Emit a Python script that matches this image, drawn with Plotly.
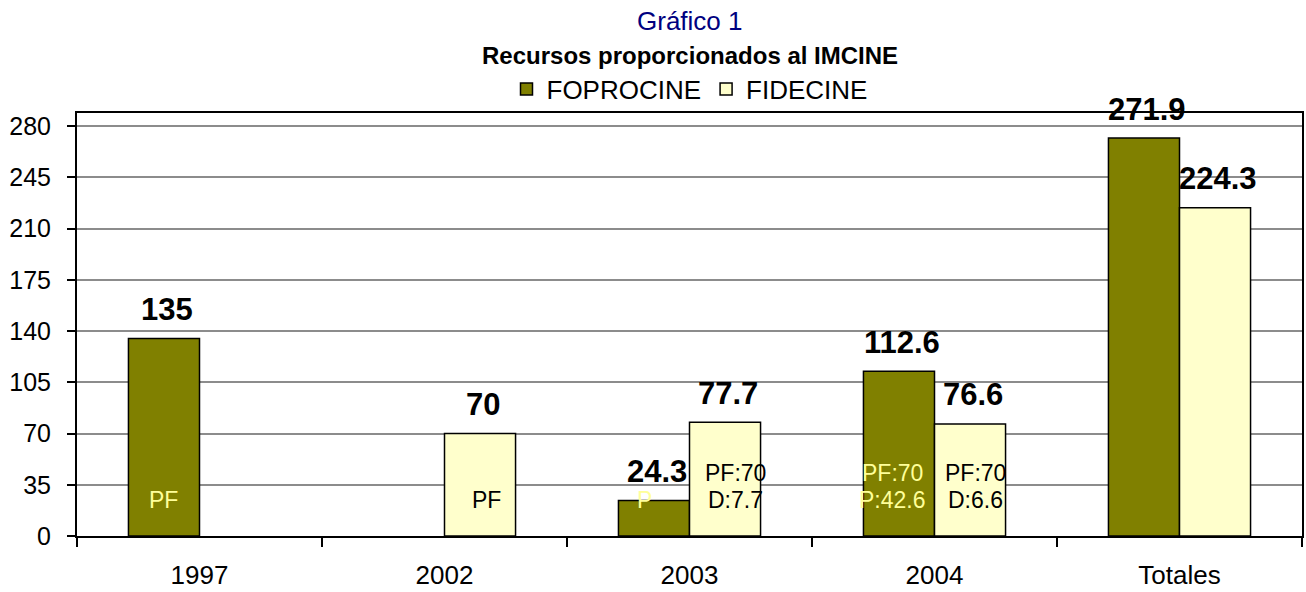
import plotly.graph_objects as go

# ---------------- data ----------------
categories = ["1997", "2002", "2003", "2004", "Totales"]
foprocine = [135, None, 24.3, 112.6, 271.9]
fidecine = [None, 70, 77.7, 76.6, 224.3]
foprocine_labels = ["135", "", "24.3", "112.6", "271.9"]
fidecine_labels = ["", "70", "77.7", "76.6", "224.3"]
# composition notes written inside the bars (bottom line last)
foprocine_notes = [["PF"], [], ["P"], ["PF:70", "P:42.6"], []]
fidecine_notes = [[], ["PF"], ["PF:70", "D:7.7"], ["PF:70", "D:6.6"], []]
y_ticks = [0, 35, 70, 105, 140, 175, 210, 245, 280]

# ---------------- style ----------------
W, H = 1306, 592
M_L, M_R, M_T, M_B = 77, 4, 113, 56
BARGAP = 0.42
OLIVE = "#808000"
CREAM = "#FFFFCC"
NOTE_YELLOW = "#FFFF99"
SANS = "Liberation Sans, Arial, sans-serif"

plot_w = W - M_L - M_R
plot_h = H - M_T - M_B
cat_w = plot_w / len(categories)
bar_w = cat_w * (1 - BARGAP) / 2
off = bar_w / 2
# small horizontal nudges of the inner notes (px)
fop_nudge = [0, 0, -9, -6, 0]
fid_nudge = [0, 6, 10, 5, 0]


def paper_y(px):
    """page pixel row -> paper y coordinate"""
    return (H - M_B - px) / plot_h


fig = go.Figure()
fig.add_trace(go.Bar(
    name="FOPROCINE", x=categories, y=foprocine,
    marker=dict(color=OLIVE, line=dict(color="black", width=1.5)),
    hoverinfo="x+y",
))
fig.add_trace(go.Bar(
    name="FIDECINE", x=categories, y=fidecine,
    marker=dict(color=CREAM, line=dict(color="black", width=1.5)),
    hoverinfo="x+y",
))

annotations = []
# value labels above bars (x given as category serial number)
for i, c in enumerate(categories):
    for vals, labs, sign in ((foprocine, foprocine_labels, -1), (fidecine, fidecine_labels, 1)):
        if vals[i] is None or not labs[i]:
            continue
        annotations.append(dict(
            x=i, y=vals[i], xref="x", yref="y", text=labs[i], showarrow=False,
            xshift=sign * off + 3, yshift=29, yanchor="middle", xanchor="center",
            font=dict(family=SANS, size=31, color="black", weight="bold"),
        ))
# notes inside bars
for i, c in enumerate(categories):
    for notes, sign, color, nudge in ((foprocine_notes, -1, NOTE_YELLOW, fop_nudge),
                                      (fidecine_notes, 1, "black", fid_nudge)):
        lines = notes[i]
        n = len(lines)
        for k, t in enumerate(lines):
            level = n - 1 - k
            annotations.append(dict(
                x=i, y=0, xref="x", yref="y", text=t, showarrow=False,
                xshift=sign * off + nudge[i], yshift=36 + 27 * level,
                yanchor="middle", xanchor="center",
                font=dict(family=SANS, size=23, color=color),
            ))

# titles
annotations.append(dict(
    x=0.5, y=paper_y(21), xref="paper", yref="paper", text="Gráfico 1",
    showarrow=False, xanchor="center", yanchor="middle",
    font=dict(family=SANS, size=26, color="#000080"),
))
annotations.append(dict(
    x=0.5, y=paper_y(56), xref="paper", yref="paper",
    text="<b>Recursos proporcionados al IMCINE</b>",
    showarrow=False, xanchor="center", yanchor="middle",
    font=dict(family=SANS, size=24, color="black"),
))

fig.update_layout(
    width=W, height=H,
    margin=dict(l=M_L, r=M_R, t=M_T, b=M_B, pad=0, autoexpand=False),
    paper_bgcolor="white", plot_bgcolor="white",
    barmode="group", bargap=BARGAP, bargroupgap=0,
    showlegend=True,
    legend=dict(
        orientation="h", x=0.5, xanchor="center", xref="paper",
        y=paper_y(89), yanchor="middle", yref="paper",
        font=dict(family=SANS, size=26, color="black"),
        bgcolor="rgba(0,0,0,0)", itemclick=False, itemdoubleclick=False,
    ),
    annotations=annotations,
    xaxis=dict(
        type="category", categoryorder="array", categoryarray=categories,
        range=[-0.5, len(categories) - 0.5], autorange=False, automargin=False,
        tickson="boundaries", ticks="outside", ticklen=9,
        tickwidth=2, tickcolor="black", tickangle=0,
        showline=True, linecolor="black", linewidth=2, mirror=True,
        showgrid=False, ticklabelstandoff=15,
        tickfont=dict(family=SANS, size=26, color="black"),
    ),
    yaxis=dict(
        range=[0, 289], autorange=False, automargin=False, tickvals=y_ticks,
        ticktext=[str(v) for v in y_ticks],
        ticks="outside", ticklen=8, tickwidth=2, tickcolor="black",
        showline=True, linecolor="black", linewidth=2, mirror=True,
        showgrid=True, gridcolor="#8c8c8c", gridwidth=1.5, zeroline=False,
        ticklabelstandoff=11,
        tickfont=dict(family=SANS, size=25, color="black"),
    ),
)

fig.write_html(
    "out.html",
    config={"displayModeBar": False},
    post_script="document.body.style.margin='0';document.body.style.overflow='hidden';",
)
